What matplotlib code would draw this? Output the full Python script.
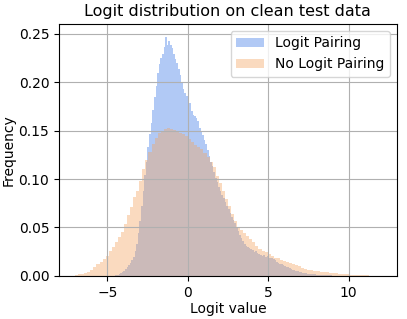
import numpy as np
import matplotlib
matplotlib.use("Agg")
import matplotlib.pyplot as plt

# bin edges (logit value)
lp_edges = np.linspace(-4.5, 9.5, 141)
nolp_edges = np.linspace(-7.0, 12.0, 101)

# density per bin
lp_freq = [
    0.001, 0.001, 0.002, 0.003, 0.004, 0.005, 0.007, 0.009, 0.011, 0.013,
    0.016, 0.020, 0.026, 0.033, 0.044, 0.057, 0.072, 0.088, 0.104, 0.118,
    0.133, 0.146, 0.158, 0.171, 0.185, 0.196, 0.209, 0.219, 0.225, 0.229,
    0.236, 0.247, 0.238, 0.242, 0.238, 0.235, 0.229, 0.224, 0.220, 0.213,
    0.207, 0.199, 0.193, 0.189, 0.186, 0.182, 0.178, 0.170, 0.166, 0.165,
    0.163, 0.160, 0.153, 0.148, 0.145, 0.140, 0.136, 0.130, 0.124, 0.118,
    0.113, 0.107, 0.101, 0.097, 0.092, 0.088, 0.083, 0.080, 0.076, 0.072,
    0.069, 0.065, 0.061, 0.058, 0.055, 0.050, 0.046, 0.042, 0.039, 0.036,
    0.033, 0.031, 0.030, 0.029, 0.028, 0.027, 0.025, 0.026, 0.024, 0.023,
    0.022, 0.021, 0.022, 0.020, 0.021, 0.019, 0.018, 0.018, 0.017, 0.016,
    0.014, 0.013, 0.012, 0.012, 0.011, 0.010, 0.009, 0.009, 0.008, 0.007,
    0.006, 0.006, 0.005, 0.005, 0.004, 0.004, 0.003, 0.003, 0.003, 0.002,
    0.002, 0.002, 0.002, 0.0015, 0.0015, 0.001, 0.001, 0.001, 0.001, 0.0008,
    0.0008, 0.0007, 0.0006, 0.0005, 0.0005, 0.0004, 0.0003, 0.0003, 0.0002, 0.0002,
]
nolp_freq = [
    0.0005, 0.0015, 0.0025, 0.0035, 0.0045, 0.006, 0.009, 0.012, 0.014, 0.017,
    0.021, 0.026, 0.030, 0.035, 0.040, 0.045, 0.054, 0.063, 0.071, 0.081,
    0.088, 0.098, 0.110, 0.120, 0.128, 0.136, 0.142, 0.147, 0.150, 0.152,
    0.153, 0.152, 0.151, 0.149, 0.147, 0.146, 0.144, 0.141, 0.138, 0.135,
    0.133, 0.131, 0.127, 0.123, 0.118, 0.112, 0.103, 0.096, 0.088, 0.079,
    0.072, 0.064, 0.057, 0.051, 0.047, 0.044, 0.041, 0.038, 0.035, 0.031,
    0.028, 0.026, 0.025, 0.023, 0.021, 0.019, 0.018, 0.016, 0.015, 0.014,
    0.013, 0.012, 0.011, 0.010, 0.0085, 0.0075, 0.0065, 0.006, 0.0055, 0.005,
    0.0045, 0.004, 0.0038, 0.0034, 0.003, 0.0027, 0.0024, 0.0021, 0.0019, 0.0016,
    0.0014, 0.0012, 0.001, 0.0009, 0.0007, 0.0005, 0.0004, 0.0003, 0.0002, 0.0001,
]

fig = plt.figure(figsize=(4.07, 3.19), dpi=100)
ax = fig.add_axes([0.145, 0.135, 0.83, 0.79])

ax.hist(lp_edges[:-1], bins=lp_edges, weights=lp_freq, color='cornflowerblue',
        alpha=0.5, label='Logit Pairing')
ax.hist(nolp_edges[:-1], bins=nolp_edges, weights=nolp_freq, color='sandybrown',
        alpha=0.4, label='No Logit Pairing')

ax.set_xlim(-8, 13)
ax.set_ylim(0, 0.26)
ax.set_xticks([-5, 0, 5, 10])
ax.set_yticks([0, 0.05, 0.10, 0.15, 0.20, 0.25])
ax.tick_params(labelsize=10)
ax.grid(True)
ax.set_xlabel('Logit value', fontsize=10, labelpad=2)
ax.set_ylabel('Frequency', fontsize=10, labelpad=2)
ax.set_title('Logit distribution on clean test data', fontsize=11.5)
ax.legend(loc='upper right', fontsize=10)

plt.savefig('out.png', dpi=100)
